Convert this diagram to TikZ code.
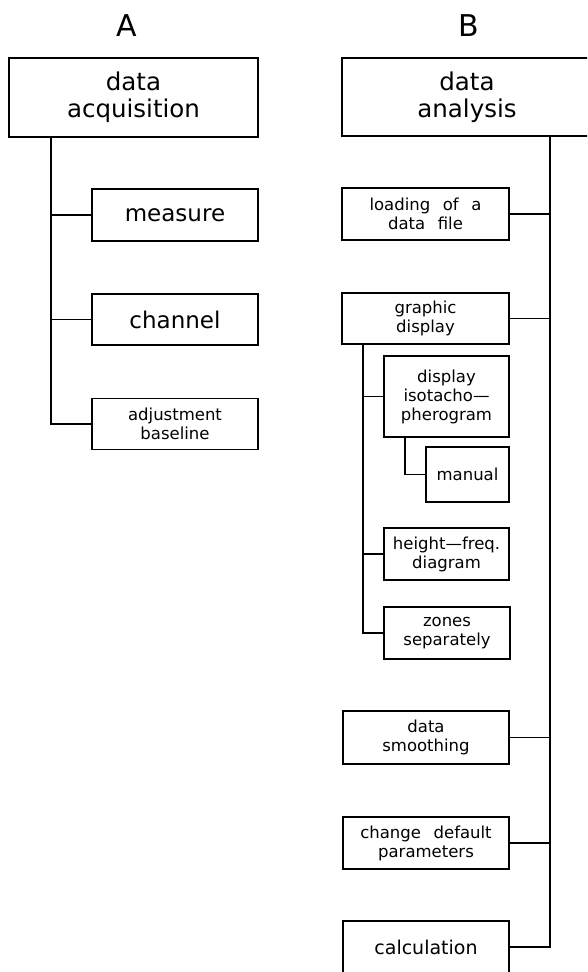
\documentclass[tikz,border=0pt]{standalone}
\usepackage{fontspec}
\setmainfont[WordSpace=2.4]{DejaVu Sans}
\begin{document}
\begin{tikzpicture}[x=1pt, y=-1pt, line width=1.2pt,
  box/.style={draw, inner sep=0pt, align=center},
  wh/.style 2 args={minimum width=#1pt, minimum height=#2pt},
  title/.style={font=\fontsize{30}{32}\selectfont},
  big/.style={font=\fontsize{24.5}{27}\selectfont},
  mid/.style={font=\fontsize{23}{26}\selectfont},
  calc/.style={font=\fontsize{19}{22}\selectfont},
  small/.style={font=\fontsize{16.5}{19}\selectfont}]
\clip (0,0) rectangle (587,972);

% column headings
\node[title] (lA) at (127,26) {A};
\node[title] (lB) at (469,26) {B};

% column A
\node[box, big, wh={249}{79}]   (acq)  at (133.5,97.5) {data\\acquisition};
\node[box, mid, wh={166}{52}]   (meas) at (175,215)    {measure};
\node[box, mid, wh={166}{51}]   (chan) at (175,319.5)  {channel};
\node[box, small, wh={166}{51}] (base) at (175,424)    {adjustment\\baseline};

% column B
\node[box, big, wh={250}{78}]   (ana)  at (467,97)     {data\\analysis};
\node[box, small, wh={167}{52}] (load) at (425.5,214)  {loading of a\\data file};
\node[box, small, wh={167}{51}] (gd)   at (425.5,318.5){graphic\\display};
\node[box, small, wh={125}{81}] (iso)  at (446.5,396.5){display\\isotacho—\\pherogram};
\node[box, small, wh={83}{55}]  (man)  at (467.5,474.5){manual};
\node[box, small, wh={125}{52}] (hf)   at (446.5,554)  {height—freq.\\diagram};
\node[box, small, wh={126}{52}] (zon)  at (447,633)    {zones\\separately};
\node[box, small, wh={166}{53}] (smo)  at (426,737.5)  {data\\smoothing};
\node[box, small, wh={166}{52}] (chg)  at (426,843)    {change default\\parameters};
\node[box, calc, wh={166}{52}]  (clc)  at (426,947)    {calculation};

% trunk positions
\coordinate (tA) at (51,0);
\coordinate (tB) at (550,0);
\coordinate (tG) at (363,0);
\coordinate (tI) at (405,0);

% connectors of column A
\draw (acq.south -| tA) |- (base.west);
\draw (meas.west) -- (meas.west -| tA);
\draw (chan.west) -- (chan.west -| tA);

% connectors of column B
\draw (ana.south -| tB) |- (clc.east);
\draw (load.east) -- (load.east -| tB);
\draw (gd.east) -- (gd.east -| tB);
\draw (smo.east) -- (smo.east -| tB);
\draw (chg.east) -- (chg.east -| tB);

% graphic display sub-tree
\draw (gd.south -| tG) |- (zon.west);
\draw (iso.west) -- (iso.west -| tG);
\draw (hf.west) -- (hf.west -| tG);
\draw (iso.south -| tI) |- (man.west);
\end{tikzpicture}
\end{document}
